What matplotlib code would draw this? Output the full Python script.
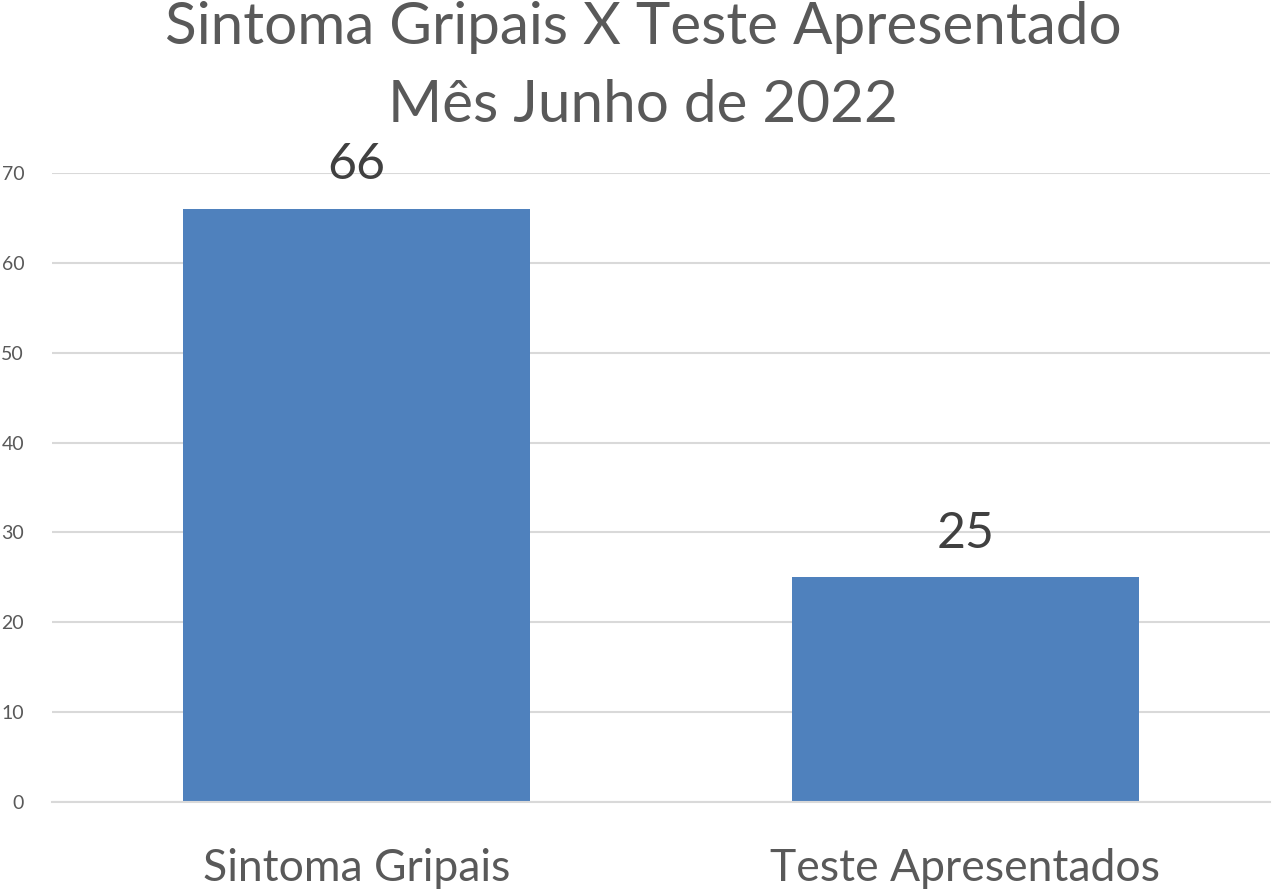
import matplotlib.pyplot as plt

plt.rcParams["font.family"] = ["Lato", "DejaVu Sans"]

categorias = ["Sintoma Gripais", "Teste Apresentados"]
valores = [66, 25]
yticks = [0, 10, 20, 30, 40, 50, 60, 70]

fig = plt.figure(figsize=(12.73, 8.9), dpi=100)
ax = fig.add_axes([0.0408, 0.0989, 0.9568, 0.7067])

x = range(len(categorias))
bars = ax.bar(x, valores, width=0.57, color="#4F81BD", zorder=2)
ax.set_xlim(-0.5, 1.5)
ax.set_ylim(0, 70)
ax.set_yticks(yticks)
ax.yaxis.grid(True, color="#D9D9D9", linewidth=1.5, zorder=0)
ax.set_xticks(list(x))
ax.set_xticklabels(categorias, fontsize=32, color="#595959")
ax.tick_params(axis="y", labelsize=14, colors="#595959", length=0, pad=20)
ax.tick_params(axis="x", length=0, pad=33)
for s in ["top", "right", "left"]:
    ax.spines[s].set_visible(False)
ax.spines["bottom"].set_color("#D9D9D9")
ax.spines["bottom"].set_linewidth(1.5)

for b, v in zip(bars, valores):
    ax.text(b.get_x() + b.get_width() / 2, v + 2.3, str(v), ha="center",
            va="bottom", fontsize=36, color="#404040")

fig.text(0.505, 0.969, "Sintoma Gripais X Teste Apresentado", ha="center",
         va="center", fontsize=42, color="#595959")
fig.text(0.505, 0.882, "Mês Junho de 2022", ha="center", va="center",
         fontsize=42, color="#595959")

fig.savefig("out.png")
